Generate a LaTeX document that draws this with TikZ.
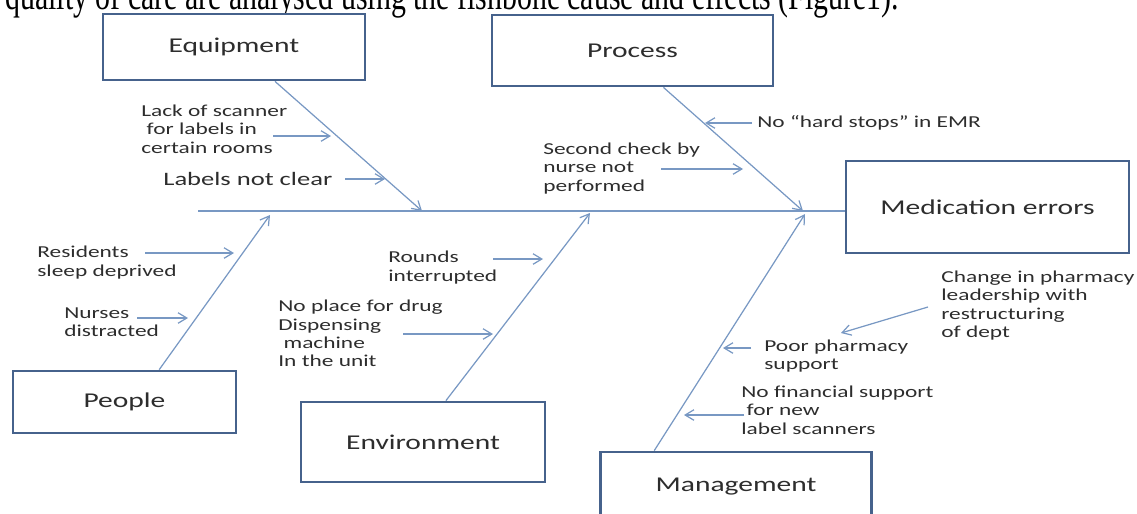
\documentclass[tikz,border=0pt]{standalone}
\usepackage{fontspec}
\setmainfont[FakeStretch=1.4]{Carlito}
\newfontfamily\bodyfont{Liberation Serif}
\usetikzlibrary{arrows.meta}
\definecolor{boxblue}{RGB}{70,98,140}
\definecolor{lineblue}{RGB}{120,152,195}
\definecolor{txtgrey}{RGB}{45,45,45}
\tikzset{
	cause/.style={draw=boxblue,line width=1.6pt,fill=white,inner sep=0pt,text=txtgrey,font=\fontsize{12}{14}\selectfont},
	note/.style={align=left,anchor=west,inner sep=0pt,text=txtgrey,font=\fontsize{9.5}{10.5}\selectfont},
	bone/.style={draw=lineblue,line width=0.7pt,-{Straight Barb[length=5pt,width=6pt]}}
	}

\begin{document}
\begin{tikzpicture}[x=0.02cm,y=-0.02cm]
	\useasboundingbox (0,0) rectangle (1137,514);
	\node[anchor=base west,inner sep=0pt,yscale=1.35,transform shape,font=\bodyfont\fontsize{17}{20}\selectfont] (intro) at (5,9) {quality of care are analysed using the fishbone cause and effects (Figure1).};
	% boxes
	\node[cause,minimum width=5.24cm,minimum height=1.32cm] (equip) at (234,47) {Equipment};
	\node[cause,minimum width=5.62cm,minimum height=1.42cm] (process) at (632.5,50.5) {Process};
	\node[cause,minimum width=5.66cm,minimum height=1.84cm] (effect) at (987.5,207) {Medication errors};
	\node[cause,minimum width=4.46cm,minimum height=1.24cm] (people) at (124.5,402) {People};
	\node[cause,minimum width=4.88cm,minimum height=1.6cm] (environ) at (423,442) {Environment};
	\node[cause,minimum width=5.42cm,minimum height=1.4cm] (manage) at (736,487) {Management};
	% spine and bones
	\coordinate (spine) at (198,211);
	\draw[draw=lineblue,line width=0.7pt] (spine) -- (spine -| effect.west);
	\coordinate (eqtip) at (422,211);
	\coordinate (prtip) at (803,211);
	\coordinate (petip) at (270,215);
	\coordinate (entip) at (590,213);
	\coordinate (matip) at (805,214);
	\draw[bone] (equip.-40) -- (eqtip);
	\draw[bone] (process.-50.3) -- (prtip);
	\draw[bone] (people.43.6) -- (petip);
	\draw[bone] (environ.61.2) -- (entip);
	\draw[bone] (manage.156.1) -- (matip);
	% causes
	\node[note] (lack) at (141,129) {Lack of scanner\\\hspace*{3pt}for labels in\\certain rooms};
	\node[note,font=\fontsize{10.8}{12}\selectfont] (unclear) at (163,179) {Labels not clear};
	\node[note] (hardstop) at (757,123) {No “hard stops” in EMR};
	\node[note] (second) at (543,168.5) {Second check by\\nurse not\\performed};
	\node[note] (resident) at (37,262.5) {Residents\\sleep deprived};
	\node[note] (nurses) at (64,322) {Nurses\\distracted};
	\node[note] (rounds) at (388,267.5) {Rounds\\interrupted};
	\node[note] (noplace) at (278,333.5) {No place for drug\\Dispensing\\\hspace*{3pt}machine\\In the unit};
	\node[note] (change) at (941,305.5) {Change in pharmacy\\leadership with\\restructuring\\of dept};
	\node[note] (poor) at (764,356) {Poor pharmacy\\support};
	\node[note] (finance) at (741,410) {No financial support\\\hspace*{3pt}for new\\label scanners};
	% small arrows
	\coordinate (lack-a) at (273,136);   \coordinate (lack-b) at (331,136);
	\coordinate (unclear-a) at (345,179); \coordinate (unclear-b) at (385,179);
	\coordinate (hard-a) at (752,123);   \coordinate (hard-b) at (705,123);
	\coordinate (second-a) at (661,169); \coordinate (second-b) at (743,169);
	\coordinate (res-a) at (145,253);    \coordinate (res-b) at (234,253);
	\coordinate (nurse-a) at (137,318);  \coordinate (nurse-b) at (188,318);
	\coordinate (round-a) at (493,259);  \coordinate (round-b) at (543,259);
	\coordinate (place-a) at (403,334);  \coordinate (place-b) at (493,334);
	\coordinate (change-a) at (928,307); \coordinate (change-b) at (841,333);
	\coordinate (poor-a) at (751,348);   \coordinate (poor-b) at (723,348);
	\coordinate (fin-a) at (744,415);    \coordinate (fin-b) at (684,415);
	\draw[bone] (lack-a) -- (lack-b);
	\draw[bone] (unclear-a) -- (unclear-b);
	\draw[bone] (hard-a) -- (hard-b);
	\draw[bone] (second-a) -- (second-b);
	\draw[bone] (res-a) -- (res-b);
	\draw[bone] (nurse-a) -- (nurse-b);
	\draw[bone] (round-a) -- (round-b);
	\draw[bone] (place-a) -- (place-b);
	\draw[bone] (change-a) -- (change-b);
	\draw[bone] (poor-a) -- (poor-b);
	\draw[bone] (fin-a) -- (fin-b);
\end{tikzpicture}
\end{document}
